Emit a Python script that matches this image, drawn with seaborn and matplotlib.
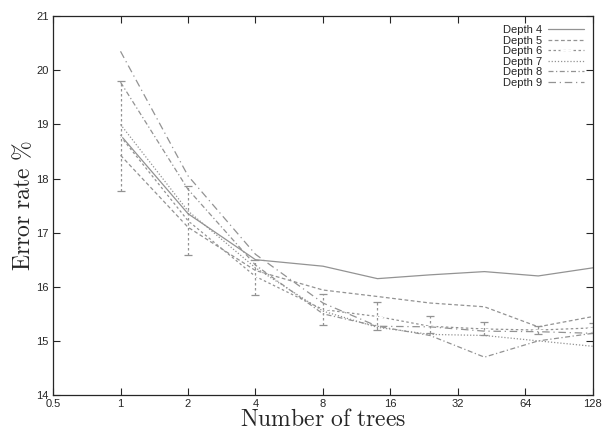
import numpy as np
import pandas as pd
import seaborn as sns
import matplotlib.pyplot as plt

# number of trees on the x axis (log2 scale)
trees = [1, 2, 4, 8, 14, 24, 42, 73, 128]

depth4 = [18.80, 17.35, 16.50, 16.38, 16.15, 16.22, 16.28, 16.20, 16.35]
depth5 = [18.43, 17.10, 16.30, 15.94, 15.82, 15.70, 15.63, 15.26, 15.45]
depth6 = [18.78, 17.22, 16.19, 15.58, 15.45, 15.27, 15.22, 15.20, 15.24]
depth6_lo = [17.77, 16.59, 15.85, 15.29, 15.20, 15.15, 15.10, 15.13, 15.15]
depth6_hi = [19.80, 17.86, 16.50, 15.87, 15.72, 15.46, 15.35, 15.27, 15.33]
depth7 = [19.00, 17.40, 16.35, 15.55, 15.25, 15.12, 15.10, 15.00, 14.90]
depth8 = [19.78, 17.80, 16.40, 15.50, 15.27, 15.10, 14.70, 15.00, 15.14]
depth9 = [20.35, 18.05, 16.60, 15.70, 15.27, 15.26, 15.18, 15.17, 15.14]

series = {
    "Depth 4": depth4,
    "Depth 5": depth5,
    "Depth 6": depth6,
    "Depth 7": depth7,
    "Depth 8": depth8,
    "Depth 9": depth9,
}
styles = {
    "Depth 4": "-",
    "Depth 5": (0, (3, 2)),
    "Depth 6": (0, (2, 2)),
    "Depth 7": (0, (1, 1.5)),
    "Depth 8": (0, (4, 2, 1, 2)),
    "Depth 9": (0, (6, 3, 1, 3)),
}

sns.set_style("ticks")
plt.rcParams["font.family"] = ["Liberation Sans", "DejaVu Sans"]
plt.rcParams["mathtext.fontset"] = "cm"

fig = plt.figure(figsize=(6.08, 4.36), dpi=100)
ax = fig.add_axes([0.0872, 0.094, 0.888, 0.869])

grey = "#939393"
for name, vals in series.items():
    df = pd.DataFrame({"trees": trees, "err": vals})
    sns.lineplot(data=df, x="trees", y="err", ax=ax, color=grey, lw=0.9,
                 linestyle=styles[name], label=name,
                 marker="+" if name == "Depth 6" else None,
                 markersize=9, markeredgewidth=0.9)

d6 = np.array(depth6)
eb = ax.errorbar(trees, d6, yerr=[d6 - np.array(depth6_lo), np.array(depth6_hi) - d6],
                 fmt="none", ecolor=grey, elinewidth=0.9, capsize=3, capthick=0.9)
eb[2][0].set_linestyle((0, (2, 2)))

ax.set_xscale("log", base=2)
ax.set_xlim(0.5, 128)
ax.set_ylim(14, 21)
xt = [0.5, 1, 2, 4, 8, 16, 32, 64, 128]
ax.set_xticks(xt)
ax.set_xticklabels(["0.5", "1", "2", "4", "8", "16", "32", "64", "128"])
ax.minorticks_off()
ax.set_yticks(range(14, 22))
ax.tick_params(direction="in", top=True, right=True, length=5, width=0.8,
               labelsize=8, pad=3)
for s in ax.spines.values():
    s.set_linewidth(0.9)

ax.set_xlabel(r"$\mathrm{Number\ of\ trees}$", fontsize=17, labelpad=0)
ax.set_ylabel(r"$\mathrm{Error\ rate\ \%}$", fontsize=17, labelpad=1)

ax.legend(loc="upper right", frameon=False, markerfirst=False, fontsize=8,
          handlelength=3.2, labelspacing=0.05, borderaxespad=0.4, handletextpad=0.6)

fig.savefig("out.png", dpi=100)
